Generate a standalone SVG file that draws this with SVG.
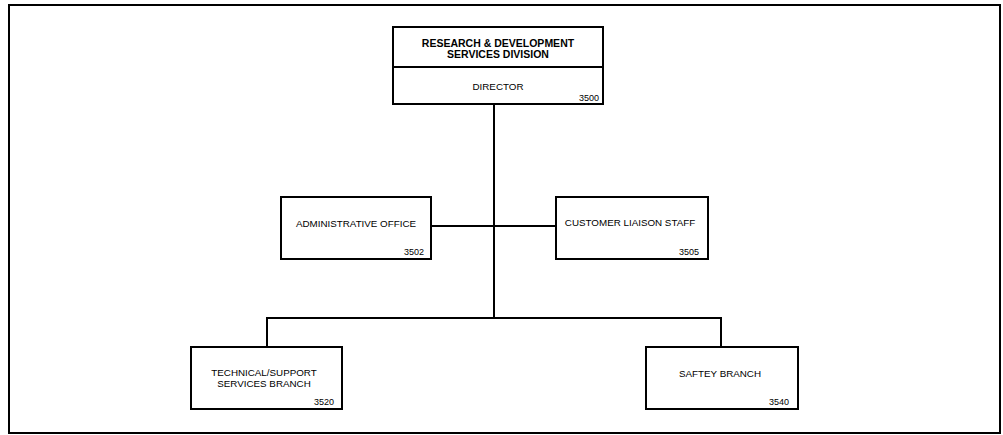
<svg xmlns="http://www.w3.org/2000/svg" width="1003" height="435" viewBox="0 0 1003 435">
<style>
.box{fill:#fff;stroke:#000;stroke-width:2}
.ln{fill:none;stroke:#000;stroke-width:2}
text{font-family:"Liberation Sans",Arial,sans-serif;fill:#000}
.t{font-size:9.8px;text-anchor:middle}
.b{font-size:10.5px;font-weight:bold;text-anchor:middle}
.n{font-size:9px;text-anchor:end}
</style>
<rect x="0" y="0" width="1003" height="435" fill="#fff"/>
<rect x="9" y="5" width="991" height="428" class="ln"/>
<g id="connectors">
<line x1="494" y1="104" x2="494" y2="318" class="ln"/>
<line x1="431" y1="226" x2="556" y2="226" class="ln"/>
<line x1="267" y1="318" x2="721" y2="318" class="ln"/>
<line x1="267" y1="317" x2="267" y2="347" class="ln"/>
<line x1="721" y1="317" x2="721" y2="347" class="ln"/>
</g>
<g id="director">
<rect x="393" y="27" width="210" height="77" class="box"/>
<line x1="393" y1="67" x2="603" y2="67" class="ln"/>
<text x="498" y="47" class="b">RESEARCH &amp; DEVELOPMENT</text>
<text x="498" y="58" class="b">SERVICES DIVISION</text>
<text x="498" y="90" class="t">DIRECTOR</text>
<text x="599" y="101" class="n">3500</text>
</g>
<g id="admin">
<rect x="281" y="197" width="150" height="62" class="box"/>
<text x="356" y="227" class="t">ADMINISTRATIVE OFFICE</text>
<text x="424" y="255" class="n">3502</text>
</g>
<g id="customer">
<rect x="556" y="197" width="152" height="62" class="box"/>
<text x="630" y="226" class="t">CUSTOMER LIAISON STAFF</text>
<text x="699" y="255" class="n">3505</text>
</g>
<g id="technical">
<rect x="191" y="347" width="151" height="62" class="box"/>
<text x="264" y="376" class="t">TECHNICAL/SUPPORT</text>
<text x="264" y="387" class="t">SERVICES BRANCH</text>
<text x="334" y="405" class="n">3520</text>
</g>
<g id="safety">
<rect x="646" y="347" width="152" height="62" class="box"/>
<text x="720" y="377" class="t">SAFTEY BRANCH</text>
<text x="789" y="405" class="n">3540</text>
</g>
</svg>
